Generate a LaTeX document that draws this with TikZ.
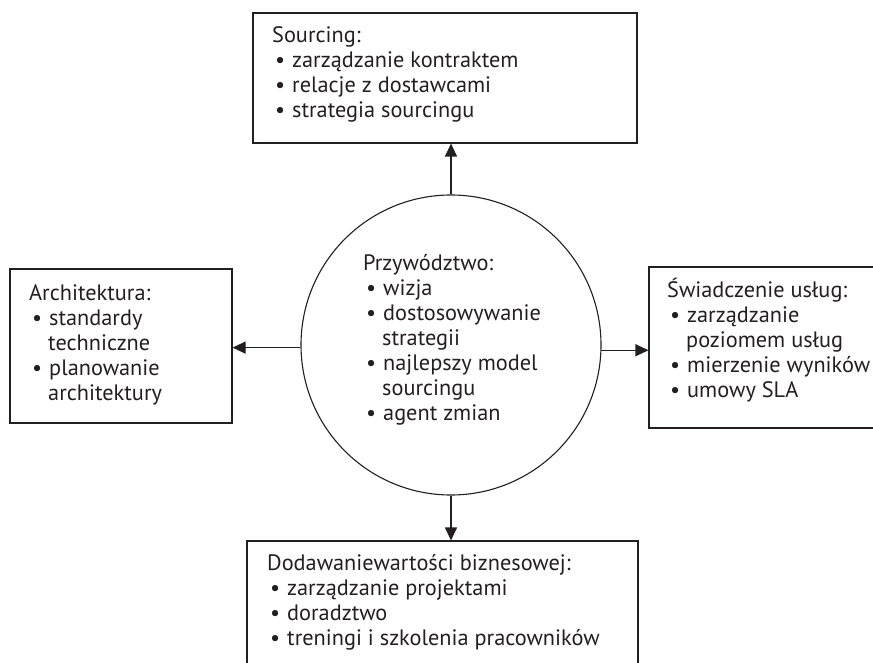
\documentclass[tikz,border=0pt]{standalone}
\usepackage{fontspec}
\setmainfont{PT Sans}
\usetikzlibrary{arrows.meta}
\definecolor{ink}{HTML}{231F20}
\newcommand\fl{\rule{0pt}{22pt}}
\newcommand\itm[1]{\hbox to 20pt{\hskip 3pt\textbullet\hfil}#1}
\newcommand\cnt[1]{\hbox to 19pt{\hfil}#1}
\tikzset{
  box/.style={draw=ink, line width=1.1pt, rectangle, inner sep=0pt},
  txt/.style={anchor=north west, inner sep=0pt, align=left, text=ink,
    font=\fontsize{22.3}{25}\selectfont},
  arr/.style={draw=ink, line width=1.1pt, -{Triangle[length=13pt,width=12pt]}}
}
\begin{document}
\begin{tikzpicture}[x=1pt,y=-1pt]
\useasboundingbox (0,0) rectangle (873,663);
% boxes
\node[box, minimum width=384pt, minimum height=130pt] (top) at (445,78) {};
\node[box, minimum width=222pt, minimum height=154pt] (left) at (121,346) {};
\node[box, minimum width=251pt, minimum height=161pt] (right) at (774.5,347.5) {};
\node[box, minimum width=391pt, minimum height=159pt] (bottom) at (442.5,620.5) {};
\node[draw=ink, line width=1.1pt, circle, minimum size=300pt, inner sep=0pt] (circ) at (451,345) {};
% texts
\node[txt] (ttop) at (272,20.5) {\fl Sourcing:\\ \itm{zarządzanie kontraktem}\\ \itm{relacje z dostawcami}\\ \itm{strategia sourcingu}};
\node[txt] (tleft) at (29,278) {\fl Architektura:\\ \itm{standardy}\\ \cnt{techniczne}\\ \itm{planowanie}\\ \cnt{architektury}};
\node[txt] (tright) at (667,275) {\fl Świadczenie usług:\\ \itm{zarządzanie}\\ \cnt{poziomem usług}\\ \itm{mierzenie wyników}\\ \itm{umowy SLA}};
\node[txt] (tbottom) at (267,548) {\fl Dodawaniewartości biznesowej:\\ \itm{zarządzanie projektami}\\ \itm{doradztwo}\\ \itm{treningi i szkolenia pracowników}};
\node[txt] (tcirc) at (363,248) {\fl Przywództwo:\\ \itm{wizja}\\ \itm{dostosowywanie}\\ \cnt{strategii}\\ \itm{najlepszy model}\\ \cnt{sourcingu}\\ \itm{agent zmian}};
% arrows
\draw[arr] (circ.north) -- (circ.north |- top.south);
\draw[arr] (circ.181) -- (circ.181 -| left.east);
\draw[arr] (circ.-2) -- (circ.-2 -| right.west);
\draw[arr] (circ.south) -- (circ.south |- bottom.north);
\end{tikzpicture}
\end{document}
